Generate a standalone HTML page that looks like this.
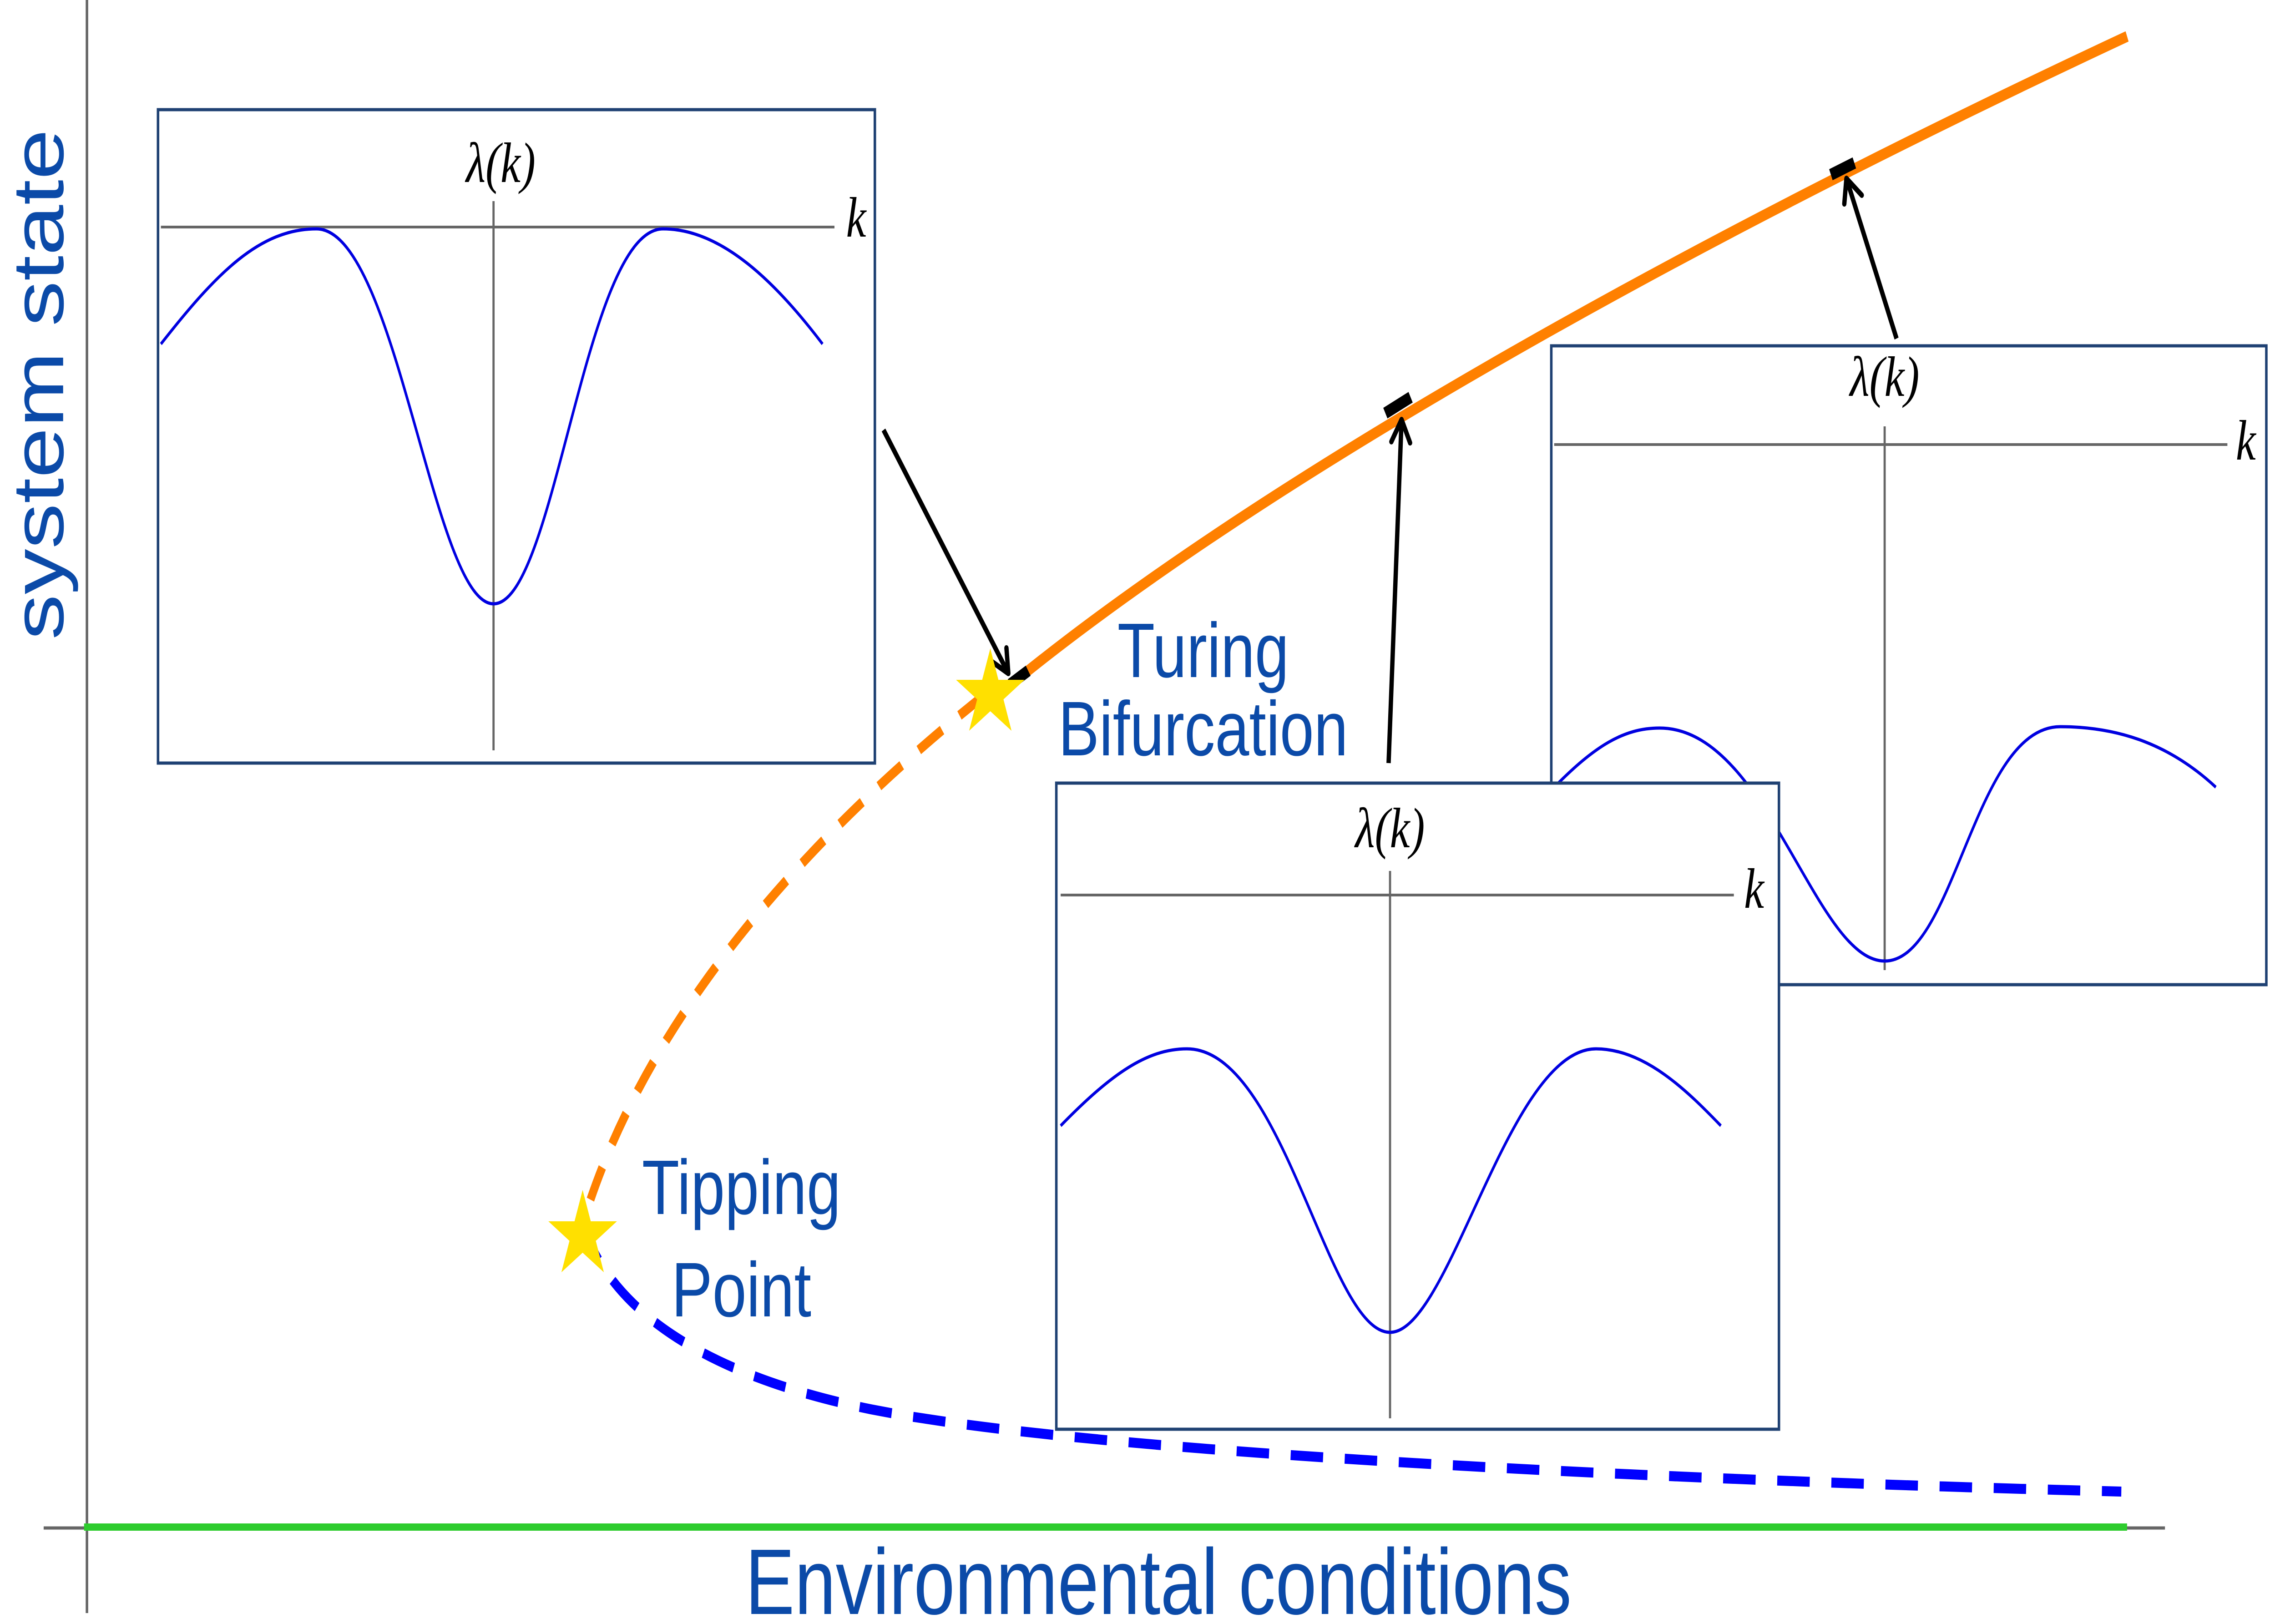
<!DOCTYPE html>
<html><head><meta charset="utf-8"><style>
html,body{margin:0;padding:0;background:#fff;overflow:hidden;width:100%;height:100%;}
svg{display:block;position:absolute;left:0;top:0;width:100vw;height:100vh;}
</style></head><body>
<svg viewBox="0 0 6306 3569" preserveAspectRatio="none" xmlns="http://www.w3.org/2000/svg">
<defs>
<marker id="ah" markerUnits="userSpaceOnUse" markerWidth="80" markerHeight="80" refX="70" refY="40" orient="auto">
<path d="M20,14 L70,40 L20,66" fill="none" stroke="#000" stroke-width="12" stroke-linecap="round" stroke-linejoin="round"/>
</marker>
</defs>
<line x1="241" y1="0" x2="241" y2="3545" stroke="#666" stroke-width="7"/>
<line x1="121" y1="3358" x2="6001" y2="3358" stroke="#666" stroke-width="7"/>
<line x1="233" y1="3356" x2="5896" y2="3356" stroke="#2ecc2e" stroke-width="16"/>
<text x="0" y="0" transform="translate(175,845) rotate(-90)" text-anchor="middle" font-family="Liberation Sans, sans-serif" font-size="200" fill="#0b4aa8">system state</text>
<text x="3211" y="3547" text-anchor="middle" font-family="Liberation Sans, sans-serif" font-size="205" fill="#0b4aa8">Environmental conditions</text>

<path d="M2840,1480 C3500,1060 4600,560 5896,80" fill="none" stroke="#ff8000" stroke-width="24"/>
<path d="M2725,1530 C2300,1800 1800,2200 1615,2690" fill="none" stroke="#ff8000" stroke-width="22" stroke-dasharray="78,58"/>
<path d="M1615,2690 C1700,2900 2000,3030 2413,3097 C3000,3190 4500,3250 5880,3278" fill="none" stroke="#0000ff" stroke-width="22" stroke-dasharray="90,60"/>
<line x1="2800" y1="1504" x2="2850" y2="1474" stroke="#000" stroke-width="26"/>
<line x1="3840" y1="908" x2="3910" y2="873" stroke="#000" stroke-width="26"/>
<line x1="5075" y1="384" x2="5140" y2="358" stroke="#000" stroke-width="26"/>

<rect x="4300" y="760" width="1982" height="1404" fill="#fff" stroke="#1f4173" stroke-width="7"/>
<line x1="4308" y1="977" x2="6174" y2="977" stroke="#666" stroke-width="6"/>
<line x1="5224" y1="937" x2="5224" y2="2132" stroke="#666" stroke-width="6"/>
<path d="M4308,1730 C4420,1640 4500,1600 4600,1600 C4900,1600 5030,2112 5224,2112 C5420,2112 5470,1597 5711,1597 C5880,1597 6020,1640 6142,1730" fill="none" stroke="#0000e0" stroke-width="7"/>
<text x="5224" y="870" text-anchor="middle" font-family="Liberation Serif, serif" font-style="italic" font-size="125">λ(k)</text>
<text x="6225" y="1010" text-anchor="middle" font-family="Liberation Serif, serif" font-style="italic" font-size="125">k</text>

<rect x="438" y="241" width="1987" height="1436" fill="#fff" stroke="#1f4173" stroke-width="7"/>
<line x1="446" y1="499" x2="2313" y2="499" stroke="#666" stroke-width="6"/>
<line x1="1368" y1="442" x2="1368" y2="1649" stroke="#666" stroke-width="6"/>
<path d="M446,756 C600,600 720,503 877,503 C1100,503 1200,1327 1368,1327 C1540,1327 1620,503 1838,503 C2000,503 2150,620 2280,756" fill="none" stroke="#0000e0" stroke-width="7"/>
<text x="1388" y="400" text-anchor="middle" font-family="Liberation Serif, serif" font-style="italic" font-size="125">λ(k)</text>
<text x="2373" y="520" text-anchor="middle" font-family="Liberation Serif, serif" font-style="italic" font-size="125">k</text>

<rect x="2928" y="1721" width="2003" height="1420" fill="#fff" stroke="#1f4173" stroke-width="7"/>
<line x1="2940" y1="1967" x2="4806" y2="1967" stroke="#666" stroke-width="6"/>
<line x1="3853" y1="1914" x2="3853" y2="3117" stroke="#666" stroke-width="6"/>
<path d="M2940,2474 C3080,2360 3180,2305 3290,2305 C3560,2305 3680,2928 3853,2928 C4020,2928 4180,2305 4424,2305 C4560,2305 4680,2400 4770,2474" fill="none" stroke="#0000e0" stroke-width="7"/>
<text x="3853" y="1862" text-anchor="middle" font-family="Liberation Serif, serif" font-style="italic" font-size="125">λ(k)</text>
<text x="4862" y="1995" text-anchor="middle" font-family="Liberation Serif, serif" font-style="italic" font-size="125">k</text>

<line x1="2449" y1="945" x2="2795" y2="1480" stroke="#000" stroke-width="12" marker-end="url(#ah)"/>
<line x1="3849" y1="1677" x2="3885" y2="922" stroke="#000" stroke-width="12" marker-end="url(#ah)"/>
<line x1="5257" y1="744" x2="5118" y2="392" stroke="#000" stroke-width="12" marker-end="url(#ah)"/>

<polygon transform="translate(2745,1525)" fill="#ffe000" points="0,-100 22.5,-31 95,-31 36.5,12 58.8,81 0,38 -58.8,81 -36.5,12 -95,-31 -22.5,-31"/>
<polygon transform="translate(1615,2715)" fill="#ffe000" points="0,-100 22.5,-31 95,-31 36.5,12 58.8,81 0,38 -58.8,81 -36.5,12 -95,-31 -22.5,-31"/>

<text x="3335" y="1488" text-anchor="middle" font-family="Liberation Sans, sans-serif" font-size="170" fill="#0b4aa8">Turing</text>
<text x="3335" y="1660" text-anchor="middle" font-family="Liberation Sans, sans-serif" font-size="170" fill="#0b4aa8">Bifurcation</text>
<text x="2055" y="2668" text-anchor="middle" font-family="Liberation Sans, sans-serif" font-size="170" fill="#0b4aa8">Tipping</text>
<text x="2055" y="2893" text-anchor="middle" font-family="Liberation Sans, sans-serif" font-size="170" fill="#0b4aa8">Point</text>
</svg>
</body></html>
